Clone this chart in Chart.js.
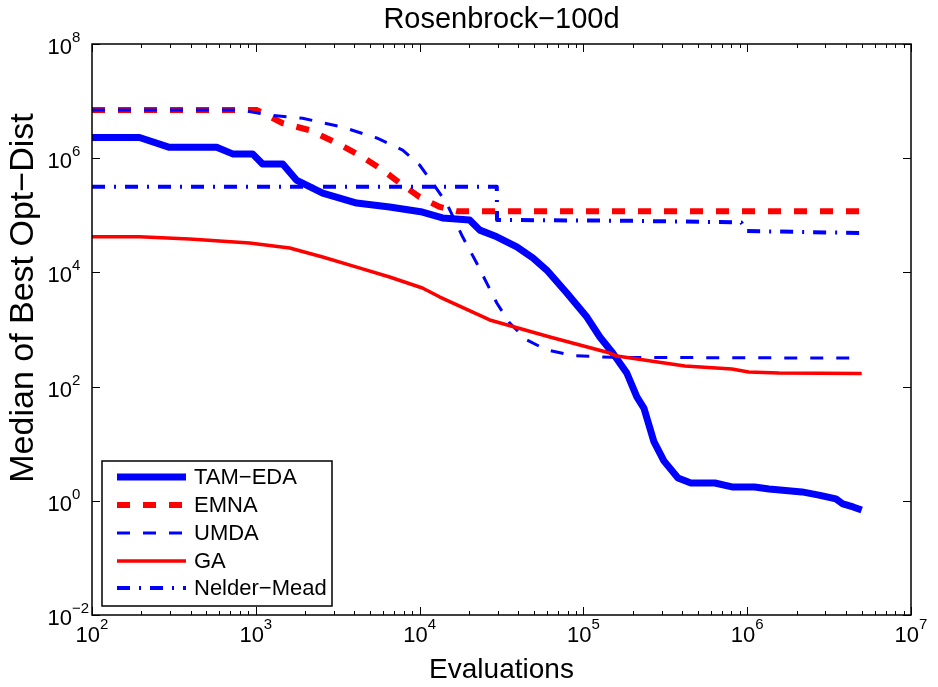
<!DOCTYPE html>
<html lang="en">
<head>
<meta charset="UTF-8">
<title>Rosenbrock-100d</title>
<script src="https://cdn.jsdelivr.net/npm/chart.js"></script>
<style>
  html, body { margin: 0; padding: 0; background: #fff; }
</style>
</head>
<body>
<canvas id="chart" width="938" height="687"></canvas>
<script>
// Median best distance to optimum vs. evaluations, one pair of arrays per algorithm
const tamEvals  = [100, 195, 297, 577, 722, 956, 1100, 1460, 1770, 2560, 4130, 6560, 10400, 13800, 20200, 23300, 29600, 39200, 49100, 59700, 79200, 105000, 126000, 151000, 184000, 212000, 234000, 269000, 310000, 378000, 453000, 635000, 807000, 1110000, 1360000, 2160000, 2740000, 3480000, 3840000, 4430000, 5000000];
const tamMedian = [2.3e6, 2.3e6, 1.55e6, 1.55e6, 1.19e6, 1.19e6, 7.9e5, 7.9e5, 4.15e5, 2.45e5, 1.64e5, 1.4e5, 1.14e5, 9.0e4, 8.3e4, 5.5e4, 4.2e4, 2.8e4, 1.79e4, 1.1e4, 4360, 1650, 740, 387, 173, 66, 42, 11, 5.0, 2.5, 2.05, 2.05, 1.75, 1.75, 1.61, 1.43, 1.26, 1.08, 0.88, 0.78, 0.69];

const emnaEvals  = [100, 1010, 1460, 2130, 3120, 4490, 5950, 7560, 10000, 13300, 16900, 5000000];
const emnaMedian = [7e6, 7e6, 4.1e6, 3.1e6, 1.85e6, 1.05e6, 6.2e5, 3.7e5, 2.09e5, 1.4e5, 1.18e5, 1.18e5];

const umdaEvals  = [100, 796, 1210, 1930, 3390, 5470, 7880, 10000, 12000, 14600, 18300, 22300, 25700, 29600, 35500, 45200, 59800, 86100, 150000, 5000000];
const umdaMedian = [7e6, 7e6, 5.7e6, 5e6, 3.5e6, 2.26e6, 1.39e6, 7.6e5, 3.7e5, 1.64e5, 4.2e4, 1.46e4, 6500, 2910, 1300, 655, 438, 350, 325, 315];

const gaEvals  = [100, 195, 394, 916, 1610, 2560, 4130, 6560, 10400, 13300, 26800, 62400, 145000, 160000, 416000, 807000, 1020000, 1560000, 5000000];
const gaMedian = [4.2e4, 4.2e4, 3.85e4, 3.27e4, 2.67e4, 1.86e4, 1.24e4, 8300, 5330, 3700, 1470, 740, 387, 343, 230, 203, 180, 173, 170];

const nmEvals  = [100, 29600, 29700, 200000, 920000, 990000, 5000000];
const nmMedian = [3.17e5, 3.17e5, 8.3e4, 8.0e4, 7.5e4, 5.3e4, 4.9e4];

const seriesNames = ['TAM\u2212EDA', 'EMNA', 'UMDA', 'GA', 'Nelder\u2212Mead'];
const xTickValues = [1e2, 1e3, 1e4, 1e5, 1e6, 1e7];
const yTickValues = [1e-2, 1e0, 1e2, 1e4, 1e6, 1e8];
const minorSteps = [2, 3, 4, 5, 6, 7, 8, 9];

const chartTitle = 'Rosenbrock\u2212100d';
const xTitle = 'Evaluations';
const yTitle = 'Median of Best Opt\u2212Dist';

const FONT = '"Liberation Sans", Arial, Helvetica, sans-serif';
const BLUE = '#0000ff';
const RED = '#ff0000';

function pts(xs, ys) {
  return xs.map((v, i) => ({ x: v, y: ys[i] }));
}

function expText(v) {
  const e = Math.round(Math.log10(v));
  return e < 0 ? '\u2212' + Math.abs(e) : String(e);
}

// MATLAB-like box, inward ticks, power-of-ten labels, titles and legend
const matlabAxes = {
  id: 'matlabAxes',
  afterDatasetsDraw(chart) {
    const { ctx, chartArea: a, scales: { x, y } } = chart;
    ctx.save();
    ctx.strokeStyle = '#000';
    ctx.lineWidth = 1.5;
    ctx.strokeRect(a.left, a.top, a.right - a.left, a.bottom - a.top);

    ctx.beginPath();
    const majorLen = 8, minorLen = 4;
    xTickValues.forEach((v, i) => {
      const px = Math.round(x.getPixelForValue(v)) + 0.5;
      ctx.moveTo(px, a.bottom); ctx.lineTo(px, a.bottom - majorLen);
      ctx.moveTo(px, a.top); ctx.lineTo(px, a.top + majorLen);
      if (i < xTickValues.length - 1) {
        minorSteps.forEach(m => {
          const mx = Math.round(x.getPixelForValue(v * m)) + 0.5;
          ctx.moveTo(mx, a.bottom); ctx.lineTo(mx, a.bottom - minorLen);
          ctx.moveTo(mx, a.top); ctx.lineTo(mx, a.top + minorLen);
        });
      }
    });
    yTickValues.forEach(v => {
      const py = Math.round(y.getPixelForValue(v)) + 0.5;
      ctx.moveTo(a.left, py); ctx.lineTo(a.left + majorLen, py);
      ctx.moveTo(a.right, py); ctx.lineTo(a.right - majorLen, py);
    });
    ctx.lineWidth = 1;
    ctx.stroke();

    // tick labels: "10" with a raised exponent
    ctx.fillStyle = '#000';
    const baseFont = '22px ' + FONT;
    const expFont = '15px ' + FONT;
    ctx.textBaseline = 'alphabetic';
    xTickValues.forEach(v => {
      const px = x.getPixelForValue(v);
      const ex = expText(v);
      ctx.font = baseFont;
      const wb = ctx.measureText('10').width;
      ctx.font = expFont;
      const we = ctx.measureText(ex).width;
      const left = px - (wb + we) / 2;
      ctx.font = baseFont;
      ctx.textAlign = 'left';
      ctx.fillText('10', left, a.bottom + 27);
      ctx.font = expFont;
      ctx.fillText(ex, left + wb, a.bottom + 14);
    });
    yTickValues.forEach(v => {
      const py = y.getPixelForValue(v);
      ctx.font = baseFont;
      ctx.textAlign = 'right';
      ctx.fillText('10', a.left - 20, py + 10);
      ctx.font = expFont;
      ctx.textAlign = 'left';
      ctx.fillText(expText(v), a.left - 20, py - 2);
    });

    // titles
    ctx.textAlign = 'center';
    ctx.font = '29px ' + FONT;
    ctx.fillText(chartTitle, (a.left + a.right) / 2, 28);
    ctx.font = '28px ' + FONT;
    ctx.fillText(xTitle, (a.left + a.right) / 2, 678);
    ctx.save();
    ctx.font = '34px ' + FONT;
    ctx.translate(33, 298);
    ctx.rotate(-Math.PI / 2);
    ctx.fillText(yTitle, 0, 0);
    ctx.restore();

    // legend box in the lower left corner
    const lx = a.left + 10, ly = 461, lw = 230, lh = 145;
    ctx.fillStyle = '#fff';
    ctx.fillRect(lx, ly, lw, lh);
    ctx.lineWidth = 1.5;
    ctx.strokeStyle = '#000';
    ctx.strokeRect(lx, ly, lw, lh);
    const rowY = [477, 505, 533, 561, 588];
    chart.data.datasets.forEach(ds => {
      const idx = seriesNames.indexOf(ds.label);
      const ry = rowY[idx];
      ctx.beginPath();
      ctx.setLineDash(ds.borderDash || []);
      ctx.lineCap = 'butt';
      ctx.strokeStyle = ds.borderColor;
      ctx.lineWidth = ds.borderWidth;
      ctx.moveTo(lx + 15, ry);
      ctx.lineTo(lx + 84, ry);
      ctx.stroke();
      ctx.setLineDash([]);
      ctx.fillStyle = '#000';
      ctx.font = '22px ' + FONT;
      ctx.textAlign = 'left';
      ctx.textBaseline = 'middle';
      ctx.fillText(ds.label, lx + 92, ry + 1);
    });
    ctx.restore();
  }
};

const datasets = [
  { label: seriesNames[0], data: pts(tamEvals, tamMedian), borderColor: BLUE, borderWidth: 7, order: 5 },
  { label: seriesNames[1], data: pts(emnaEvals, emnaMedian), borderColor: RED, borderWidth: 6, borderDash: [13, 13], order: 4 },
  { label: seriesNames[2], data: pts(umdaEvals, umdaMedian), borderColor: BLUE, borderWidth: 3, borderDash: [13, 13], order: 3 },
  { label: seriesNames[3], data: pts(gaEvals, gaMedian), borderColor: RED, borderWidth: 3.5, order: 2 },
  { label: seriesNames[4], data: pts(nmEvals, nmMedian), borderColor: BLUE, borderWidth: 4, borderDash: [13, 9, 2, 9], order: 1 }
];

new Chart(document.getElementById('chart'), {
  type: 'line',
  data: { datasets: datasets },
  options: {
    responsive: false,
    animation: false,
    layout: { padding: { left: 92, top: 44, right: 27, bottom: 72 } },
    elements: {
      point: { radius: 0 },
      line: { tension: 0, fill: false, borderCapStyle: 'butt', borderJoinStyle: 'round' }
    },
    scales: {
      x: { type: 'logarithmic', min: 1e2, max: 1e7, display: false },
      y: { type: 'logarithmic', min: 1e-2, max: 1e8, display: false }
    },
    plugins: {
      legend: { display: false },
      tooltip: { enabled: false }
    }
  },
  plugins: [matlabAxes]
});
</script>
</body>
</html>
